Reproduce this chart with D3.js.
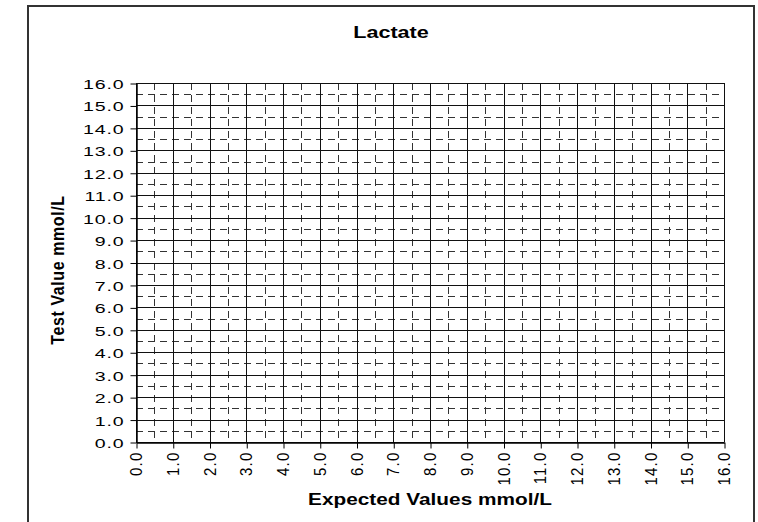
<!DOCTYPE html>
<html>
<head>
<meta charset="utf-8">
<script src="https://cdn.jsdelivr.net/npm/d3@7"></script>
<style>
  html, body { margin: 0; padding: 0; background: #fff; }
  svg { display: block; }
  text { font-family: "Liberation Sans", Arial, sans-serif; fill: #000; }
</style>
</head>
<body>
<svg id="chart" width="758" height="522"></svg>
<script>
// ---- data ----
const chartTitle = "Lactate";
const xTitle = "Expected Values mmol/L";
const yTitle = "Test Value mmol/L";
const xDomain = [0, 16];
const yDomain = [0, 16];
const majorTicks = [0,1,2,3,4,5,6,7,8,9,10,11,12,13,14,15,16];
const minorTicks = [0.5,1.5,2.5,3.5,4.5,5.5,6.5,7.5,8.5,9.5,10.5,11.5,12.5,13.5,14.5,15.5];

// ---- layout ----
const W = 758, H = 522;
const plot = { left: 136, right: 724, top: 83, bottom: 442 };

const svg = d3.select("#chart");
svg.append("rect").attr("width", W).attr("height", H).attr("fill", "#fff");

// outer frame (bottom edge is outside the picture)
svg.append("path")
  .attr("d", `M28,${H + 10} L28,6 L754,6 L754,${H + 10}`)
  .attr("fill", "none").attr("stroke", "#333").attr("stroke-width", 2);

const x = d3.scaleLinear().domain(xDomain).range([plot.left, plot.right]);
const y = d3.scaleLinear().domain(yDomain).range([plot.bottom, plot.top]);

const g = svg.append("g");

// minor dashed grid
g.selectAll("line.minor-v").data(minorTicks).join("line")
  .attr("class", "minor-v")
  .attr("x1", d => Math.round(x(d)) + 0.5).attr("x2", d => Math.round(x(d)) + 0.5)
  .attr("y1", plot.top).attr("y2", plot.bottom)
  .attr("stroke", "#333").attr("stroke-width", 1).attr("stroke-dasharray", "7,5");
g.selectAll("line.minor-h").data(minorTicks).join("line")
  .attr("class", "minor-h")
  .attr("y1", d => Math.round(y(d)) + 0.5).attr("y2", d => Math.round(y(d)) + 0.5)
  .attr("x1", plot.left).attr("x2", plot.right)
  .attr("stroke", "#333").attr("stroke-width", 1).attr("stroke-dasharray", "7,5");

// major solid grid
g.selectAll("line.major-v").data(majorTicks).join("line")
  .attr("class", "major-v")
  .attr("x1", d => Math.round(x(d)) + 0.5).attr("x2", d => Math.round(x(d)) + 0.5)
  .attr("y1", plot.top).attr("y2", plot.bottom)
  .attr("stroke", "#111").attr("stroke-width", 1);
g.selectAll("line.major-h").data(majorTicks).join("line")
  .attr("class", "major-h")
  .attr("y1", d => Math.round(y(d)) + 0.5).attr("y2", d => Math.round(y(d)) + 0.5)
  .attr("x1", plot.left).attr("x2", plot.right)
  .attr("stroke", "#111").attr("stroke-width", 1);

// axes
const fmt = d3.format(".1f");
const yAxis = d3.axisLeft(y).tickValues(majorTicks).tickFormat(fmt).tickSize(6).tickSizeOuter(0);
const xAxis = d3.axisBottom(x).tickValues(majorTicks).tickFormat(fmt).tickSize(6).tickSizeOuter(0);

const yG = svg.append("g").attr("transform", `translate(${plot.left + 0.5},0.5)`).call(yAxis);
const xG = svg.append("g").attr("transform", `translate(0.5,${plot.bottom + 0.5})`).call(xAxis);

[yG, xG].forEach(a => {
  a.select(".domain").attr("stroke", "#000").attr("stroke-width", 1.5);
  a.selectAll(".tick line").attr("stroke", "#000");
});

yG.selectAll(".tick text")
  .attr("x", null).attr("dy", null)
  .attr("text-anchor", "end")
  .attr("font-size", 13.5)
  .attr("letter-spacing", 0.6)
  .attr("transform", "translate(-12,5) scale(1.45,1)");

xG.selectAll(".tick text")
  .attr("y", null).attr("dy", null)
  .attr("text-anchor", "end")
  .attr("font-size", 15)
  .attr("letter-spacing", 1.2)
  .attr("transform", "translate(5,9) scale(1.15,1) rotate(-90)");

// titles
svg.append("text")
  .attr("transform", "translate(391,38) scale(1.35,1)")
  .attr("text-anchor", "middle").attr("font-weight", "bold").attr("font-size", 16)
  .text(chartTitle);

svg.append("text")
  .attr("transform", `translate(${(plot.left + plot.right) / 2},505) scale(1.3,1)`)
  .attr("text-anchor", "middle").attr("font-weight", "bold").attr("font-size", 16)
  .text(xTitle);

svg.append("text")
  .attr("transform", `translate(64,270) scale(1.1,1) rotate(-90)`)
  .attr("text-anchor", "middle").attr("font-weight", "bold").attr("font-size", 16)
  .attr("letter-spacing", 0.6)
  .text(yTitle);
</script>
</body>
</html>
